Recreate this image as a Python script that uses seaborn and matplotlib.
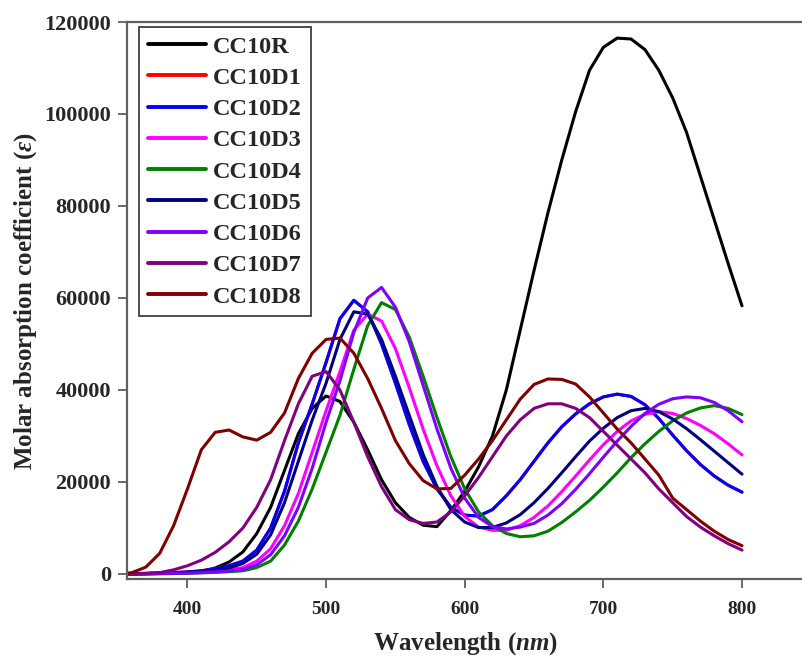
import pandas as pd
import seaborn as sns
import matplotlib.pyplot as plt

# wavelength grid (nm) and molar absorption coefficients
wavelength = list(range(350, 801, 10))

cc10r = [0, 100, 150, 200, 250, 300, 600, 1300, 2600, 4800, 8800, 14500, 22500, 30500, 36000, 38700,
         37500, 33000, 27000, 20500, 15500, 12300, 10600, 10300, 13800, 18000, 23300, 30000, 40000, 53000,
         66000, 78500, 90000, 100500, 109500, 114500, 116500, 116300, 114000, 109500, 103500, 96000, 86500,
         77000, 67500, 58300]
cc10d1 = [0, 0, 100, 200, 300, 450, 700, 1100, 1800, 2800, 5200, 10000, 18000, 28500, 37000, 46000,
          55500, 59500, 57000, 50000, 41500, 32500, 24500, 18500, 14500, 12800, 12600, 14000, 17000, 20500,
          24500, 28500, 32000, 34800, 37000, 38500, 39100, 38600, 36800, 33800, 30200, 26800, 23800,
          21300, 19300, 17800]
cc10d2 = [0, 0, 100, 200, 300, 450, 700, 1100, 1800, 2800, 5200, 10000, 18000, 28500, 37000, 46000,
          55500, 59500, 57000, 50000, 41500, 32500, 24500, 18500, 14500, 12800, 12600, 14000, 17000, 20500,
          24500, 28500, 32000, 34800, 37000, 38500, 39100, 38600, 36800, 33800, 30200, 26800, 23800,
          21300, 19300, 17800]
cc10d3 = [0, 0, 50, 100, 150, 250, 400, 600, 900, 1400, 2800, 5500, 10500, 17500, 26500, 35500,
          44000, 53000, 56500, 55000, 49000, 40500, 31500, 23500, 17000, 12500, 10200, 9500, 9500, 10500,
          12300, 14800, 17900, 21300, 24800, 28100, 31000, 33300, 34700, 35300, 34900, 33800, 32300,
          30500, 28300, 25900]
cc10d4 = [0, 0, 0, 50, 100, 150, 250, 350, 500, 700, 1400, 2800, 6300, 11500, 18500, 26500,
          34500, 44500, 54000, 59000, 57500, 51500, 43000, 34000, 25500, 18500, 13500, 10500, 8800, 8100,
          8300, 9300, 11200, 13500, 16000, 18900, 22000, 25300, 28300, 31000, 33300, 35000, 36100,
          36600, 36000, 34650]
cc10d5 = [0, 0, 100, 150, 250, 350, 500, 800, 1300, 2300, 4300, 8500, 15500, 24500, 33500, 41500,
          51000, 57000, 56500, 51000, 43000, 34500, 26000, 19000, 14000, 11300, 10100, 10100, 11100, 12900,
          15500, 18600, 22000, 25500, 28900, 31700, 34000, 35500, 36000, 35300, 33700, 31600, 29200,
          26700, 24200, 21700]
cc10d6 = [0, 0, 0, 100, 150, 200, 300, 450, 650, 1000, 2000, 4200, 8300, 14500, 23000, 33000,
          42000, 52500, 60000, 62300, 58000, 50500, 41000, 31500, 23000, 16500, 12300, 10300, 9800, 10200,
          11000, 12800, 15300, 18400, 21800, 25400, 28900, 32100, 34900, 36900, 38100, 38500, 38300,
          37300, 35500, 33100]
cc10d7 = [0, 0, 100, 300, 900, 1800, 3000, 4700, 7000, 10000, 14500, 20500, 29000, 37000, 43000, 44000,
          40000, 33000, 25500, 19000, 14000, 11800, 11000, 11300, 13500, 17000, 21000, 25500, 30000, 33500,
          36000, 37000, 37000, 36000, 34000, 31000, 28000, 25000, 22000, 18500, 15500, 12500, 10200,
          8300, 6600, 5200]
cc10d8 = [0, 300, 1500, 4500, 10500, 18500, 27000, 30800, 31300, 29800, 29100, 30800, 35000, 42500, 48000, 51000,
          51300, 48000, 42500, 36000, 29000, 24000, 20300, 18500, 18600, 21500, 25000, 29000, 33500, 38000,
          41200, 42400, 42300, 41300, 38500, 35000, 31500, 28500, 25000, 21500, 16500, 14000, 11500,
          9300, 7500, 6150]

names = ["CC10R", "CC10D1", "CC10D2", "CC10D3", "CC10D4", "CC10D5", "CC10D6", "CC10D7", "CC10D8"]
values = [cc10r, cc10d1, cc10d2, cc10d3, cc10d4, cc10d5, cc10d6, cc10d7, cc10d8]
colors = ["black", "red", "blue", "magenta", "green", "navy", "#8000ff", "purple", "maroon"]

df = pd.concat([pd.DataFrame({"wl": wavelength, "eps": v, "name": n}) for n, v in zip(names, values)])

sns.set_style("ticks")
plt.rcParams["font.family"] = ["Liberation Serif", "DejaVu Serif"]
plt.rcParams["font.weight"] = "bold"
plt.rcParams["mathtext.fontset"] = "custom"
plt.rcParams["mathtext.it"] = "Liberation Serif:italic:bold"
plt.rcParams["mathtext.rm"] = "Liberation Serif:bold"

fig = plt.figure(figsize=(8.03, 6.58), dpi=100)
ax = fig.add_axes([127 / 803, 1 - 579 / 658, 676 / 803, 557 / 658])

sns.lineplot(data=df, x="wl", y="eps", hue="name", hue_order=names,
             palette=dict(zip(names, colors)), lw=2.2, ax=ax,
             solid_joinstyle="round", solid_capstyle="round")

ax.set_xlim(356.4, 844)
ax.set_ylim(-1087, 120000)
ax.set_xticks([400, 500, 600, 700, 800])
ax.set_yticks([0, 20000, 40000, 60000, 80000, 100000, 120000])

for s in ["left", "bottom", "top"]:
    ax.spines[s].set_color("#606060")
    ax.spines[s].set_linewidth(1.6)
ax.spines["right"].set_visible(False)
ax.tick_params(direction="out", length=6.5, width=1.3, color="#606060")
ax.tick_params(axis="x", pad=9, labelsize=14)
ax.tick_params(axis="y", pad=5, labelsize=16)

ax.set_xlabel("Wavelength ($nm$)", fontsize=18, fontweight="bold", labelpad=9)
ax.set_ylabel(r"Molar absorption coefficient ($\varepsilon$)", fontsize=18, fontweight="bold", labelpad=4)

handles, labels = ax.get_legend_handles_labels()
leg = ax.legend(handles, labels, loc="upper left", bbox_to_anchor=(0.0178, 0.991), borderaxespad=0,
                fontsize=17.5, handlelength=2.4, handletextpad=0.3, labelspacing=0.38,
                borderpad=0.35, fancybox=False, framealpha=1, edgecolor="#404040")
leg.get_frame().set_linewidth(1.3)
for line in leg.get_lines():
    line.set_linewidth(2.8)

fig.savefig("out.png", dpi=100)
